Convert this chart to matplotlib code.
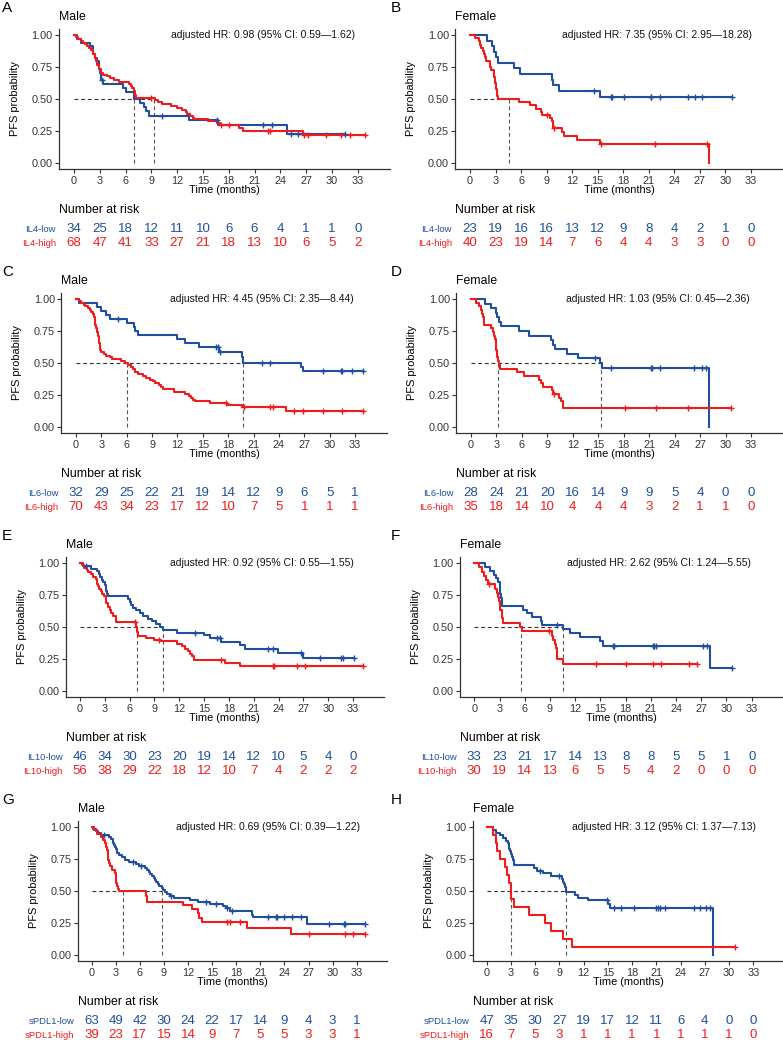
import numpy as np
import matplotlib
matplotlib.use("Agg")
import matplotlib.pyplot as plt
from matplotlib.transforms import blended_transform_factory

plt.rcParams['font.family'] = ['Liberation Sans', 'DejaVu Sans']

BLUE = '#1F4F9E'
RED = '#F21B1B'
W, H = 783, 1040

# ---------------- data ----------------
time_ticks = [0, 3, 6, 9, 12, 15, 18, 21, 24, 27, 30, 33]

# A: IL4 male
a_low_t = [0, 0.3, 0.8, 1.9, 2.2, 2.5, 2.7, 2.9, 3.0, 3.1, 3.4, 5.7, 6.0, 7.0, 7.7, 8.1, 8.4, 8.7, 13.4, 16.8, 24.8]
a_low_s = [1, .971, .941, .912, .853, .824, .794, .735, .706, .647, .618, .588, .555, .50, .468, .437, .405, .371, .337, .30, .225]
a_low_c = [3.2, 10.2, 16.6, 22.0, 23.0, 25.2, 26.0, 31.5]
a_high_t = [0, .2, .5, .8, 1.0, 1.3, 1.5, 1.8, 2.0, 2.2, 2.4, 2.6, 2.7, 2.9, 3.1, 3.4, 3.8, 4.2, 4.6, 5.2, 6.4, 6.6, 6.8,
            7.0, 7.1, 7.2, 9.4, 9.8, 10.2, 11.3, 12.0, 12.6, 13.0, 13.2, 13.5, 13.8, 14.0, 15.6, 16.6, 17.0, 19.2, 19.7, 26.6]
a_high_s = [1, .985, .971, .956, .941, .926, .912, .897, .882, .853, .824, .794, .765, .735, .706, .691, .676, .662, .647, .632, .618, .603, .588,
            .559, .529, .51, .49, .475, .46, .445, .43, .415, .40, .385, .37, .355, .34, .325, .31, .30, .275, .248, .22]
a_high_c = [9.0, 17.1, 18.0, 22.6, 22.8, 26.8, 27.2, 29.3, 31.0, 32.1, 33.8]
a_med = [7.0, 9.3]
a_risk_low = [34, 25, 18, 12, 11, 10, 6, 6, 4, 1, 1, 0]
a_risk_high = [68, 47, 41, 33, 27, 21, 18, 13, 10, 6, 5, 2]

# B: IL4 female
b_low_t = [0, 2.0, 2.6, 2.8, 3.05, 3.25, 5.2, 5.9, 9.6, 9.8, 10.5, 15.3]
b_low_s = [1, .957, .913, .870, .826, .783, .739, .696, .652, .609, .565, .517]
b_low_c = [14.6, 16.5, 16.7, 18.1, 21.2, 21.3, 22.3, 25.6, 26.4, 27.2, 30.8]
b_high_t = [0, .6, 1.0, 1.2, 1.3, 1.5, 1.6, 1.8, 1.9, 2.35, 2.4, 2.5, 2.8, 2.85, 2.9, 2.95, 3.0, 3.1, 3.15, 3.2, 3.3,
            5.8, 7.0, 7.7, 8.3, 8.4, 9.4, 9.6, 9.7, 9.8, 10.8, 11.0, 12.6, 15.3, 28.1]
b_high_s = [1, .975, .95, .925, .90, .875, .85, .825, .80, .775, .75, .725, .70, .675, .65, .625, .60, .575, .55, .525, .50,
            .475, .45, .425, .40, .375, .35, .325, .30, .27, .24, .21, .18, .15, 0]
b_high_c = [9.0, 9.9, 15.4, 21.7, 27.8]
b_med = [None, 4.6]
b_risk_low = [23, 19, 16, 16, 13, 12, 9, 8, 4, 2, 1, 0]
b_risk_high = [40, 23, 19, 14, 7, 6, 4, 4, 3, 3, 0, 0]

# C: IL6 male
c_low_t = [0, .3, 2.5, 3.0, 3.5, 4.0, 6.0, 6.9, 7.0, 7.3, 12.0, 12.9, 14.6, 16.9, 19.6, 19.8, 26.6, 26.8]
c_low_s = [1, .969, .938, .906, .875, .844, .812, .781, .75, .719, .688, .656, .625, .585, .55, .50, .47, .44]
c_low_c = [5.0, 16.5, 16.8, 17.0, 22.0, 22.9, 29.2, 31.3, 31.5, 32.6, 34.0]
c_high_t = [0, .3, .6, .9, 1.1, 1.4, 1.6, 1.8, 2.0, 2.1, 2.2, 2.3, 2.4, 2.5, 2.6, 2.7, 2.75, 2.85, 3.0, 3.3,
            3.6, 4.0, 4.3, 5.3, 5.8, 6.1, 6.5, 6.8, 7.0, 7.3, 7.9, 8.3, 8.8, 9.1, 9.4, 9.8, 10.0, 10.3, 11.6, 12.9,
            13.4, 13.6, 13.8, 14.1, 15.8, 17.9, 19.6, 24.8]
c_high_s = [1, .986, .971, .957, .943, .929, .914, .90, .886, .857, .829, .80, .771, .743, .714, .686, .657, .60, .586, .571,
            .557, .543, .529, .514, .50, .486, .471, .457, .429, .414, .40, .386, .371, .357, .343, .329, .314, .30, .273, .258,
            .243, .227, .212, .20, .186, .17, .153, .122]
c_high_c = [17.8, 19.9, 22.9, 23.3, 25.8, 26.9, 29.2, 31.5, 34.0]
c_med = [19.8, 6.0]
c_risk_low = [32, 29, 25, 22, 21, 19, 14, 12, 9, 6, 5, 1]
c_risk_high = [70, 43, 34, 23, 17, 12, 10, 7, 5, 1, 1, 1]

# D: IL6 female
d_low_t = [0, 1.7, 2.3, 2.9, 3.1, 3.3, 3.5, 5.7, 6.8, 9.4, 9.7, 9.9, 11.3, 12.6, 15.2, 15.4, 28.1]
d_low_s = [1, .964, .929, .893, .857, .821, .786, .75, .714, .679, .643, .607, .571, .536, .50, .46, 0]
d_low_c = [14.6, 16.5, 21.2, 21.3, 22.3, 26.3, 27.2, 27.7]
d_high_t = [0, .6, 1.0, 1.2, 1.3, 1.4, 1.5, 2.4, 2.6, 2.75, 2.85, 2.9, 2.95, 3.0, 3.05, 3.1, 3.2, 3.3, 3.4,
            5.4, 6.2, 8.0, 8.2, 8.5, 9.5, 9.7, 10.4, 10.6, 10.8]
d_high_s = [1, .971, .943, .914, .886, .857, .80, .771, .743, .714, .686, .657, .629, .60, .571, .543, .514, .486, .457,
            .429, .40, .371, .343, .314, .286, .257, .229, .20, .146]
d_high_c = [9.8, 18.1, 21.8, 25.6, 30.7]
d_med = [15.3, 3.2]
d_risk_low = [28, 24, 21, 20, 16, 14, 9, 9, 5, 4, 0, 0]
d_risk_high = [35, 18, 14, 10, 4, 4, 4, 3, 2, 1, 1, 0]

# E: IL10 male
e_low_t = [0, .4, 1.3, 2.1, 2.3, 2.4, 2.6, 2.8, 3.0, 3.1, 3.2, 3.3, 3.4, 5.75, 6.0, 6.2, 6.4, 6.8, 7.2, 7.6,
           8.2, 8.7, 9.2, 9.65, 10.0, 11.7, 15.0, 15.7, 17.1, 19.3, 20.0, 23.9, 27.0]
e_low_s = [1, .978, .957, .935, .913, .891, .87, .848, .826, .804, .783, .761, .739, .717, .696, .674, .652, .63, .609, .587,
           .565, .543, .522, .50, .478, .457, .435, .413, .386, .36, .33, .30, .256]
e_low_c = [.7, 13.9, 16.5, 16.9, 22.7, 23.3, 26.7, 29.0, 31.6, 31.8, 33.1]
e_high_t = [0, .2, .5, .8, 1.0, 1.3, 1.6, 1.9, 2.0, 2.1, 2.2, 2.3, 2.5, 2.7, 2.9, 3.1, 3.2, 3.4, 3.6, 3.8,
            4.0, 4.4, 6.8, 6.9, 7.0, 8.0, 8.9, 9.8, 11.7, 12.3, 12.7, 13.0, 13.3, 13.5, 13.8, 17.5, 19.3]
e_high_s = [1, .982, .964, .946, .929, .911, .893, .875, .857, .839, .821, .80, .78, .76, .739, .714, .69, .66, .634, .61,
            .585, .54, .50, .46, .426, .413, .40, .39, .37, .35, .33, .31, .29, .27, .245, .222, .198]
e_high_c = [6.6, 9.6, 17.1, 23.3, 23.4, 26.2, 27.2, 34.2]
e_med = [10.0, 6.9]
e_risk_low = [46, 34, 30, 23, 20, 19, 14, 12, 10, 5, 4, 0]
e_risk_high = [56, 38, 29, 22, 18, 12, 10, 7, 4, 2, 2, 2]

# F: IL10 female
f_low_t = [0, 1.3, 1.9, 2.3, 2.6, 2.85, 3.0, 3.05, 3.1, 3.2, 3.3, 5.8, 6.3, 6.9, 7.9, 8.1, 10.5, 11.4, 12.6, 15.0, 15.3, 28.0]
f_low_s = [1, .97, .939, .909, .879, .848, .818, .788, .758, .727, .667, .636, .606, .576, .545, .515, .485, .455, .424, .394, .355, .178]
f_low_c = [9.8, 16.5, 16.6, 21.2, 21.4, 21.6, 27.2, 27.7, 30.7]
f_high_t = [0, .6, .9, 1.1, 1.4, 1.6, 2.5, 2.7, 2.8, 2.9, 3.0, 3.1, 3.3, 3.4, 5.4, 5.7, 9.2, 9.4, 9.6, 9.7, 9.8, 10.6]
f_high_s = [1, .967, .933, .90, .867, .833, .80, .767, .733, .70, .667, .633, .567, .533, .50, .467, .433, .40, .367, .333, .25, .214]
f_high_c = [1.8, 8.9, 14.5, 18.0, 21.3, 22.2, 25.6, 26.5]
f_med = [10.6, 5.5]
f_risk_low = [33, 23, 21, 17, 14, 13, 8, 8, 5, 5, 1, 0]
f_risk_high = [30, 19, 14, 13, 6, 5, 5, 4, 2, 0, 0, 0]

# G: sPDL1 male
g_low_t = [0, .2, .5, .8, 1.1, 2.1, 2.4, 2.6, 2.7, 2.8, 2.9, 3.0, 3.1, 3.2, 3.4, 3.8, 4.2, 4.7, 5.5, 5.9,
           6.6, 6.9, 7.1, 7.3, 7.5, 7.7, 7.9, 8.0, 8.2, 8.4, 8.7, 8.9, 9.1, 9.4, 9.7, 10.2, 12.2, 13.2, 14.7, 16.3,
           16.7, 17.2, 19.9, 20.1, 26.8]
g_low_s = [1, .984, .968, .952, .937, .921, .905, .889, .873, .857, .841, .825, .81, .794, .778, .762, .746, .73, .714, .698,
           .682, .667, .651, .635, .619, .603, .587, .571, .556, .54, .524, .508, .492, .476, .46, .444, .429, .413, .397, .381,
           .365, .34, .315, .293, .244]
g_low_c = [1.5, 5.1, 6.2, 9.9, 14.2, 15.5, 16.9, 17.5, 22.0, 23.0, 23.1, 23.9, 24.9, 26.1, 29.5, 31.4, 31.6, 34.0]
g_high_t = [0, .3, .7, 1.1, 1.4, 1.7, 1.8, 1.9, 2.0, 2.05, 2.1, 2.3, 2.5, 2.9, 3.0, 3.05, 3.1, 3.3, 3.4,
            6.8, 6.9, 11.4, 12.5, 13.2, 13.4, 13.7, 19.3, 24.8]
g_high_s = [1, .974, .949, .923, .897, .872, .846, .821, .769, .744, .718, .692, .667, .641, .59, .564, .538, .513, .50,
            .458, .417, .39, .36, .33, .29, .26, .208, .167]
g_high_c = [16.8, 17.2, 18.5, 27.0, 31.5, 32.5, 34.0]
g_med = [8.8, 3.9]
g_risk_low = [63, 49, 42, 30, 24, 22, 17, 14, 9, 4, 3, 1]
g_risk_high = [39, 23, 17, 15, 14, 9, 7, 5, 5, 3, 3, 1]

# H: sPDL1 female
h_low_t = [0, .8, 1.2, 1.65, 2.06, 2.4, 2.6, 2.7, 2.8, 2.9, 3.0, 3.1, 3.3, 3.4, 5.8, 6.2, 7.0, 8.0, 9.3, 9.5,
           9.6, 9.7, 9.8, 10.9, 11.3, 12.6, 15.06, 15.3, 28.0]
h_low_s = [1, .979, .957, .936, .915, .894, .872, .851, .83, .809, .787, .766, .745, .702, .681, .66, .638, .617, .596, .574,
           .553, .532, .49, .468, .447, .426, .40, .37, 0]
h_low_c = [6.6, 8.9, 14.85, 15.7, 16.6, 18.2, 21.0, 21.2, 21.5, 22.1, 25.6, 26.4, 27.1, 27.6]
h_high_t = [0, .8, 1.15, 1.3, 1.65, 2.3, 2.55, 2.8, 2.95, 3.0, 3.4, 5.2, 7.2, 8.0, 9.5, 10.5]
h_high_s = [1, .9375, .875, .8125, .75, .6875, .625, .5625, .5, .4375, .375, .3125, .25, .1875, .125, .0625]
h_high_c = [30.7]
h_med = [9.8, 3.0]
h_risk_low = [47, 35, 30, 27, 19, 17, 12, 11, 6, 4, 0, 0]
h_risk_high = [16, 7, 5, 3, 1, 1, 1, 1, 1, 1, 1, 0]

letters = ['A', 'B', 'C', 'D', 'E', 'F', 'G', 'H']
titles = ['Male', 'Female'] * 4
markers = ['IL4', 'IL4', 'IL6', 'IL6', 'IL10', 'IL10', 'sPDL1', 'sPDL1']
hr_texts = ['0.98 (95% CI: 0.59\u20141.62)', '7.35 (95% CI: 2.95\u201418.28)',
            '4.45 (95% CI: 2.35\u20148.44)', '1.03 (95% CI: 0.45\u20142.36)',
            '0.92 (95% CI: 0.55\u20141.55)', '2.62 (95% CI: 1.24\u20145.55)',
            '0.69 (95% CI: 0.39\u20141.22)', '3.12 (95% CI: 1.37\u20147.13)']

panels = [
    (a_low_t, a_low_s, a_low_c, a_high_t, a_high_s, a_high_c, a_med, a_risk_low, a_risk_high),
    (b_low_t, b_low_s, b_low_c, b_high_t, b_high_s, b_high_c, b_med, b_risk_low, b_risk_high),
    (c_low_t, c_low_s, c_low_c, c_high_t, c_high_s, c_high_c, c_med, c_risk_low, c_risk_high),
    (d_low_t, d_low_s, d_low_c, d_high_t, d_high_s, d_high_c, d_med, d_risk_low, d_risk_high),
    (e_low_t, e_low_s, e_low_c, e_high_t, e_high_s, e_high_c, e_med, e_risk_low, e_risk_high),
    (f_low_t, f_low_s, f_low_c, f_high_t, f_high_s, f_high_c, f_med, f_risk_low, f_risk_high),
    (g_low_t, g_low_s, g_low_c, g_high_t, g_high_s, g_high_c, g_med, g_risk_low, g_risk_high),
    (h_low_t, h_low_s, h_low_c, h_high_t, h_high_s, h_high_c, h_med, h_risk_low, h_risk_high),
]

# pixel position of the 0 and 33 ticks for each panel (layout only)
x_anchor = [(74, 357.7), (470, 751), (76, 355), (471, 751),
            (80, 353), (474.3, 751.7), (91.7, 356.7), (486.7, 753.3)]

fig = plt.figure(figsize=(W / 100, H / 100), dpi=100)


def fy(ypx):
    return 1 - ypx / H


def draw_curve(ax, t, s, cens, color):
    t = np.asarray(t, float)
    s = np.asarray(s, float)
    end = max(t[-1], max(cens)) if len(cens) else t[-1]
    ax.step(np.append(t, end), np.append(s, s[-1]), where='post', color=color, lw=1.5, zorder=3)
    c = np.asarray(cens, float)
    idx = np.searchsorted(t, c, side='right') - 1
    ax.plot(c, s[idx], ls='none', marker='+', ms=5, mew=1.0, color=color, zorder=4)


for i, p in enumerate(panels):
    low_t, low_s, low_c, high_t, high_s, high_c, med, risk_low, risk_high = p
    row, col = divmod(i, 2)
    x0, x33 = x_anchor[i]
    scale = (x33 - x0) / 33.0
    left = x0 - 1.75 * scale
    width = 38.5 * scale
    y100 = 35 + 264 * row
    top = y100 - 6.4
    height = 140.8
    ax = fig.add_axes([left / W, 1 - (top + height) / H, width / W, height / H])
    ax.set_xlim(-1.75, 36.75)
    ax.set_ylim(-0.05, 1.05)

    # median lines
    meds = [m for m in med if m is not None]
    ax.plot([0, max(meds)], [0.5, 0.5], ls=(0, (3.5, 2.5)), color='#333333', lw=0.8, zorder=2)
    for m in meds:
        ax.plot([m, m], [0, 0.5], ls=(0, (3.5, 2.5)), color='#555555', lw=0.8, zorder=2)

    draw_curve(ax, low_t, low_s, low_c, BLUE)
    draw_curve(ax, high_t, high_s, high_c, RED)

    ax.text(22, 1.0, 'adjusted HR: ' + hr_texts[i], ha='center', va='center', fontsize=7.5, color='#111111')

    for sp in ['top', 'right']:
        ax.spines[sp].set_visible(False)
    for sp in ['left', 'bottom']:
        ax.spines[sp].set_linewidth(0.9)
        ax.spines[sp].set_color('#333333')
    ax.set_xticks(time_ticks)
    ax.set_yticks([0, 0.25, 0.5, 0.75, 1.0])
    ax.set_yticklabels(['0.00', '0.25', '0.50', '0.75', '1.00'])
    ax.tick_params(length=3, width=0.8, color='#333333', labelsize=7.8, labelcolor='#333333', pad=1.5)

    # axis titles
    fig.text((left + width / 2) / W, fy(top + height + 20.5), 'Time (months)',
             ha='center', va='center', fontsize=7.9)
    fig.text((left - 44) / W, fy(top + height / 2), 'PFS probability',
             ha='center', va='center', rotation=90, fontsize=7.9)

    # titles and letters
    fig.text(left / W, fy(17 + 264 * row), titles[i], ha='left', va='center', fontsize=8.8)
    fig.text((2 + 389 * col) / W, fy(1 + 264 * row), letters[i], ha='left', va='top', fontsize=11)

    # risk table
    fig.text(left / W, fy(210 + 264 * row), 'Number at risk', ha='left', va='center', fontsize=8.8)
    tr = blended_transform_factory(ax.transData, fig.transFigure)
    for vals, yr, color, lab in [(risk_low, 229, BLUE, markers[i] + '-low'),
                                 (risk_high, 243, RED, markers[i] + '-high')]:
        for tt, n in zip(time_ticks, vals):
            ax.text(tt, fy(yr + 264 * row), str(n), transform=tr, ha='center', va='center',
                    fontsize=9.5, color=color, clip_on=False)
        fig.text((left - 3) / W, fy(yr + 264 * row), lab, ha='right', va='center', fontsize=6.8, color=color)

fig.savefig('out.png', dpi=100)
